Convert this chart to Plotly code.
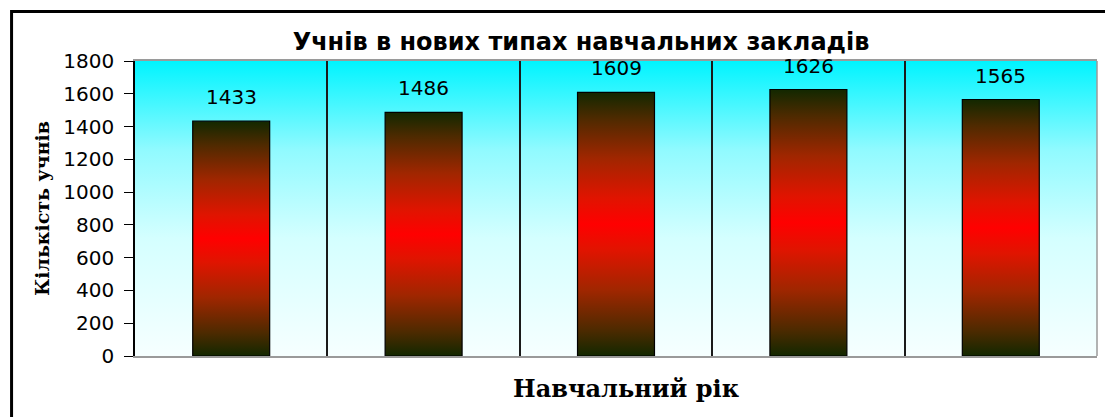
import plotly.graph_objects as go

# ---- data ----
categories = [0, 1, 2, 3, 4]
values = [1433, 1486, 1609, 1626, 1565]
labels = ["1433", "1486", "1609", "1626", "1565"]
y_ticks = [0, 200, 400, 600, 800, 1000, 1200, 1400, 1600, 1800]

title_text = "Учнів в нових типах навчальних закладів"
x_title = "Навчальний рік"
y_title = "Кількість учнів"

# page has an 8px body margin, so figure coordinates are page - 8
OFF = 8
W, H = 1113 - OFF, 417 - OFF
ML, MR, MT, MB = 127, 15.5, 53, 61
PW, PH = W - ML - MR, H - MT - MB

BAR_HALF = 0.2
bar_scale = [
    [0.0, "#122800"],
    [0.1, "#4e2a00"],
    [0.25, "#a02600"],
    [0.4, "#e01400"],
    [0.5, "#ff0000"],
    [0.6, "#e01400"],
    [0.75, "#a02600"],
    [0.9, "#4e2a00"],
    [1.0, "#122800"],
]

fig = go.Figure()

for c, v in zip(categories, values):
    fig.add_trace(go.Scatter(
        x=[c - BAR_HALF, c - BAR_HALF, c + BAR_HALF, c + BAR_HALF, c - BAR_HALF],
        y=[0, v, v, 0, 0],
        mode="lines",
        fill="toself",
        fillgradient=dict(type="vertical", colorscale=bar_scale),
        line=dict(color="#000000", width=1.2),
        hoverinfo="skip",
        showlegend=False,
    ))


def px_x(p):
    return (p - OFF - ML) / PW


def px_y(p):
    return (MT + PH - (p - OFF)) / PH


annotations = []
for c, v, t in zip(categories, values, labels):
    annotations.append(dict(
        x=c, y=v, xref="x", yref="y", text=t, showarrow=False,
        yshift=24, yanchor="middle",
        font=dict(family="DejaVu Sans", size=20, color="#000000"),
    ))
annotations.append(dict(
    x=px_x(627), y=px_y(388), xref="paper", yref="paper",
    text="<b>" + x_title + "</b>", showarrow=False,
    xanchor="center", yanchor="middle",
    font=dict(family="DejaVu Serif", size=24, color="#000000"),
))

bg_svg = (
    "data:image/svg+xml;utf8,"
    "<svg xmlns='http://www.w3.org/2000/svg' width='100' height='100' preserveAspectRatio='none'>"
    "<defs><linearGradient id='g' x1='0' y1='0' x2='0' y2='1'>"
    "<stop offset='0' stop-color='%2300F4FF'/>"
    "<stop offset='0.3' stop-color='%2390FAFF'/>"
    "<stop offset='0.6' stop-color='%23D4FFFF'/>"
    "<stop offset='1' stop-color='%23F6FFFF'/>"
    "</linearGradient></defs>"
    "<rect width='100' height='100' fill='url(%23g)'/></svg>"
)

shapes = [
    dict(type="line", xref="paper", yref="paper", x0=1, x1=1, y0=0, y1=1,
         line=dict(color="#9a9a9a", width=1.5), layer="below"),
    dict(type="rect", xref="paper", yref="paper",
         x0=px_x(11.5), x1=px_x(1140), y0=px_y(440), y1=px_y(11.5),
         line=dict(color="#000000", width=3), fillcolor="rgba(0,0,0,0)", layer="above"),
]

fig.update_layout(
    width=W, height=H,
    margin=dict(l=ML, r=MR, t=MT, b=MB, autoexpand=False),
    paper_bgcolor="#ffffff",
    plot_bgcolor="rgba(0,0,0,0)",
    showlegend=False,
    title=dict(
        text="<b>" + title_text + "</b>",
        x=(581 - OFF) / W, xref="container", xanchor="center",
        y=1 - (42 - OFF) / H, yref="container", yanchor="middle",
        font=dict(family="DejaVu Sans", size=24, color="#000000"),
    ),
    images=[dict(source=bg_svg, xref="paper", yref="paper", x=0, y=1,
                 sizex=1, sizey=1, sizing="stretch", layer="below",
                 xanchor="left", yanchor="top")],
    shapes=shapes,
    annotations=annotations,
    xaxis=dict(
        range=[-0.5, len(categories) - 0.5],
        tickvals=[c - 0.5 for c in categories],
        showticklabels=False,
        ticks="",
        showgrid=True, gridcolor="#1a1a1a", gridwidth=1.5,
        zeroline=False,
        showline=True, linecolor="#9a9a9a", linewidth=1.5, mirror=True,
        automargin=False,
        fixedrange=True,
    ),
    yaxis=dict(
        range=[0, 1800],
        tickvals=y_ticks,
        ticktext=[str(t) for t in y_ticks],
        ticks="outside", ticklen=9, tickcolor="#000000", tickwidth=1,
        ticklabelstandoff=6,
        tickfont=dict(family="DejaVu Sans", size=20, color="#000000"),
        showgrid=False, zeroline=False,
        showline=True, linecolor="#000000", linewidth=1.5,
        title=dict(text="<b>" + y_title + "</b>",
                   font=dict(family="DejaVu Serif", size=19, color="#000000"),
                   standoff=9),
        automargin=False,
        fixedrange=True,
    ),
)

fig.write_html("out.html")
